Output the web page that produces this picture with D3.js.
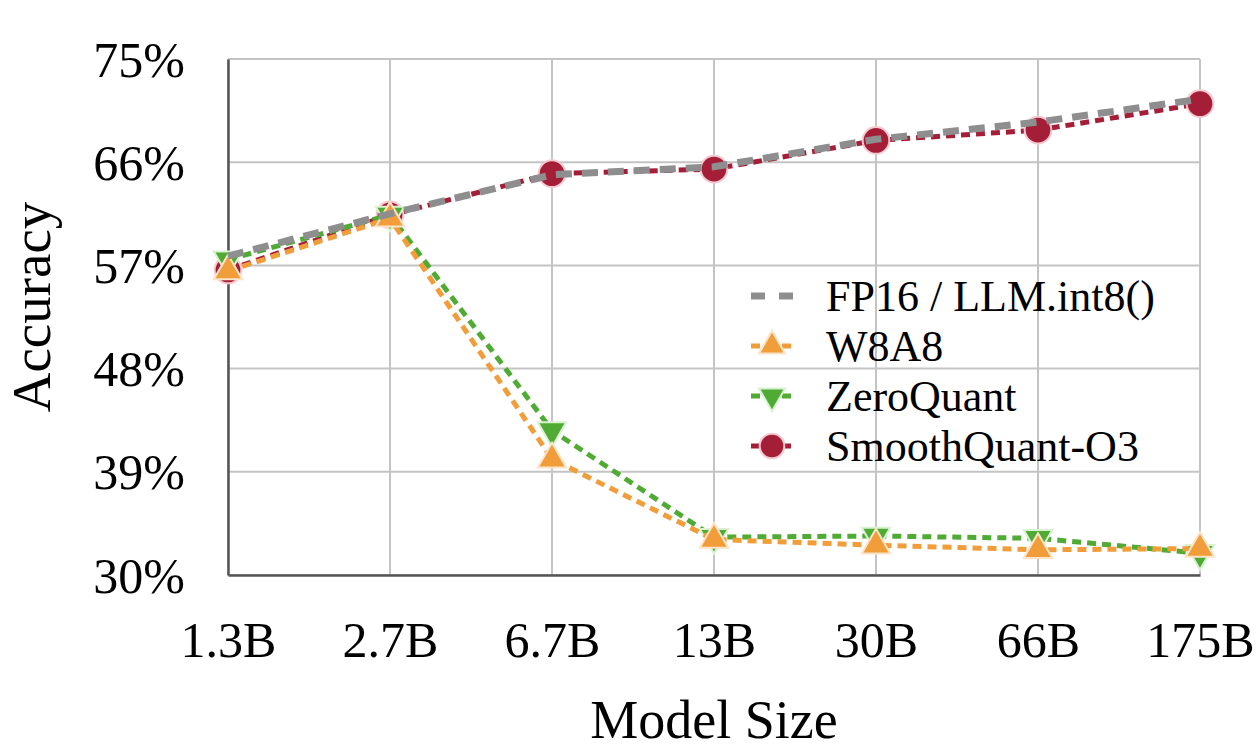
<!DOCTYPE html>
<html>
<head>
<meta charset="utf-8">
<script src="https://cdn.jsdelivr.net/npm/d3@7"></script>
<style>
  html, body { margin: 0; padding: 0; background: #fff; }
  svg { display: block; font-family: "Liberation Serif", "Times New Roman", serif; }
</style>
</head>
<body>
<script>
// Data
const models = ['1.3B', '2.7B', '6.7B', '13B', '30B', '66B', '175B'];
const yTicks = [30, 39, 48, 57, 66, 75];

const fp16 = [57.8, 61.5, 64.9, 65.6, 68.0, 69.5, 71.5];
const w8a8 = [56.5, 61.1, 40.1, 33.1, 32.6, 32.2, 32.3];
const zeroQuant = [57.5, 61.4, 42.6, 33.3, 33.4, 33.2, 31.9];
const smoothQuant = [56.6, 61.4, 65.0, 65.4, 67.9, 68.8, 71.1];

const W = 1259, H = 750;
const plot = { left: 228, right: 1200, top: 59, bottom: 575 };

const svg = d3.select('body').append('svg')
    .attr('width', W)
    .attr('height', H);

// Scales
const x = d3.scalePoint().domain(models).range([plot.left, plot.right]);
const y = d3.scaleLinear().domain([30, 75]).range([plot.bottom, plot.top]);

// Grid
const grid = svg.append('g').attr('class', 'grid');
grid.selectAll('.hg').data(yTicks).join('line')
    .attr('class', 'hg')
    .attr('x1', plot.left).attr('x2', plot.right)
    .attr('y1', d => y(d)).attr('y2', d => y(d))
    .attr('stroke', '#c4c4c4').attr('stroke-width', 2);
grid.selectAll('.vg').data(models).join('line')
    .attr('class', 'vg')
    .attr('x1', d => x(d)).attr('x2', d => x(d))
    .attr('y1', plot.top).attr('y2', plot.bottom)
    .attr('stroke', '#c4c4c4').attr('stroke-width', 2);

// Axes
const yAxis = svg.append('g')
    .attr('transform', `translate(${plot.left},0)`)
    .call(d3.axisLeft(y).tickValues(yTicks).tickSize(0).tickPadding(43).tickFormat(d => d + '%'));
const xAxis = svg.append('g')
    .attr('transform', `translate(0,${plot.bottom})`)
    .call(d3.axisBottom(x).tickSize(0).tickPadding(46));
[yAxis, xAxis].forEach(a => {
    a.select('.domain').attr('stroke', '#555').attr('stroke-width', 2.5);
    a.selectAll('text')
        .attr('fill', '#000')
        .style('font-family', '"Liberation Serif", serif')
        .style('font-size', '50px');
});
yAxis.selectAll('text').attr('dy', '0.34em');
xAxis.selectAll('text').attr('dy', '0.71em');

// Axis titles
svg.append('text')
    .attr('x', (plot.left + plot.right) / 2).attr('y', 738)
    .attr('text-anchor', 'middle')
    .style('font-size', '54px')
    .text('Model Size');
svg.append('text')
    .attr('transform', `translate(50,${(plot.top + plot.bottom) / 2 - 10}) rotate(-90)`)
    .attr('text-anchor', 'middle')
    .style('font-size', '55px')
    .text('Accuracy');

// Series
const series = [
    { name: 'SmoothQuant-O3', values: smoothQuant, color: '#a51e38', symbol: d3.symbolCircle, size: 560, rot: 0, outline: '#f6c9d0', width: 5, dash: '9,6' },
    { name: 'ZeroQuant', values: zeroQuant, color: '#4fab34', symbol: d3.symbolTriangle, size: 350, rot: 180, outline: '#d9f2d0', width: 5, dash: '9,6' },
    { name: 'W8A8', values: w8a8, color: '#f09d3a', symbol: d3.symbolTriangle, size: 350, rot: 0, outline: '#fde3c8', width: 5, dash: '9,6' },
    { name: 'FP16 / LLM.int8()', values: fp16, color: '#8e8e8e', symbol: null, width: 7, dash: '16,10' }
];

const line = d3.line()
    .x((d, i) => x(models[i]))
    .y(d => y(d));

series.forEach(s => {
    const g = svg.append('g');
    g.append('path')
        .datum(s.values)
        .attr('d', line)
        .attr('fill', 'none')
        .attr('stroke', s.color)
        .attr('stroke-width', s.width)
        .attr('stroke-dasharray', s.dash);
    if (s.symbol) {
        g.selectAll('path.m').data(s.values).join('path')
            .attr('class', 'm')
            .attr('d', d3.symbol().type(s.symbol).size(s.size))
            .attr('transform', (d, i) => `translate(${x(models[i])},${y(d)}) rotate(${s.rot})`)
            .attr('fill', s.color)
            .attr('stroke', s.outline)
            .attr('stroke-width', 2);
    }
});

// Legend
const legendOrder = [series[3], series[2], series[1], series[0]];
const legend = svg.append('g').attr('transform', 'translate(751,296)');
legendOrder.forEach((s, i) => {
    const row = legend.append('g').attr('transform', `translate(0,${i * 50})`);
    if (s.symbol) {
        row.append('line')
            .attr('x1', 0).attr('x2', 40).attr('y1', 0).attr('y2', 0)
            .attr('stroke', s.color).attr('stroke-width', s.width)
            .attr('stroke-dasharray', '9,22');
        row.append('path')
            .attr('d', d3.symbol().type(s.symbol).size(s.size * 0.85))
            .attr('transform', `translate(21,0) rotate(${s.rot})`)
            .attr('fill', s.color)
            .attr('stroke', s.outline)
            .attr('stroke-width', 2);
    } else {
        row.append('line')
            .attr('x1', 0).attr('x2', 42).attr('y1', 0).attr('y2', 0)
            .attr('stroke', s.color).attr('stroke-width', s.width)
            .attr('stroke-dasharray', '14,14');
    }
    row.append('text')
        .attr('x', 75).attr('y', 0).attr('dy', '0.34em')
        .style('font-size', '44px')
        .text(s.name);
});
</script>
</body>
</html>
